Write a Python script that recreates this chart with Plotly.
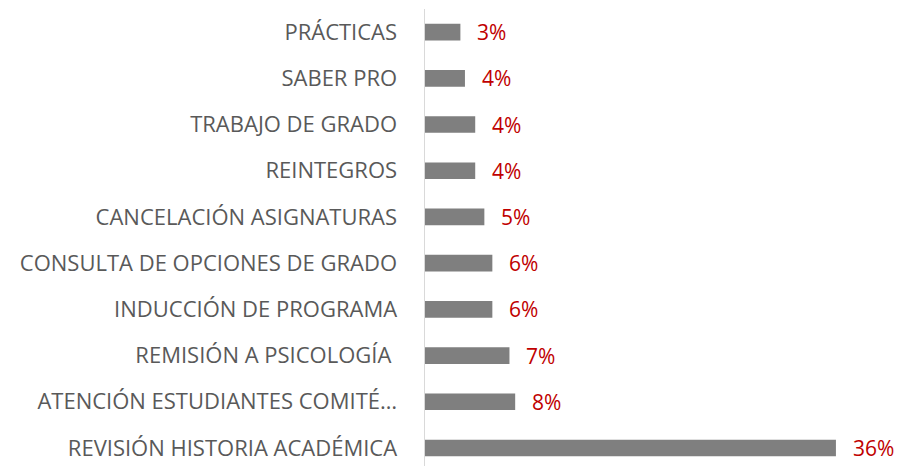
import plotly.graph_objects as go

# Categories bottom-to-top
categories = [
    "REVISIÓN HISTORIA ACADÉMICA",
    "ATENCIÓN ESTUDIANTES COMITÉ…",
    "REMISIÓN A PSICOLOGÍA\u00a0",
    "INDUCCIÓN DE PROGRAMA",
    "CONSULTA DE OPCIONES DE GRADO",
    "CANCELACIÓN ASIGNATURAS",
    "REINTEGROS",
    "TRABAJO DE GRADO",
    "SABER PRO",
    "PRÁCTICAS",
]
values = [36.0, 7.9, 7.4, 5.9, 5.9, 5.2, 4.4, 4.4, 3.5, 3.1]
labels = ["36%", "8%", "7%", "6%", "6%", "5%", "4%", "4%", "4%", "3%"]

FONT = "Open Sans"

fig = go.Figure(
    go.Bar(
        y=categories,
        x=values,
        orientation="h",
        marker=dict(color="#7f7f7f", line=dict(width=0)),
        width=0.36,
        hoverinfo="skip",
    )
)

for c, v, t in zip(categories, values, labels):
    fig.add_annotation(
        x=v, y=c, text=t, showarrow=False, xanchor="left", xshift=15,
        font=dict(family=FONT, size=21, color="#c00000"),
    )

fig.update_layout(
    width=901,
    height=466,
    margin=dict(l=425, r=8, t=9, b=0),
    paper_bgcolor="white",
    plot_bgcolor="white",
    showlegend=False,
    xaxis=dict(range=[0, 41], visible=False),
    yaxis=dict(
        type="category",
        range=[-0.39, 9.5],
        showline=True,
        linecolor="#d9d9d9",
        linewidth=1.5,
        showgrid=False,
        ticks="",
        ticklabelstandoff=22,
        automargin=False,
        tickfont=dict(family=FONT, size=22, color="#595959"),
    ),
)

fig.write_html("out.html", config={"displayModeBar": False, "staticPlot": True})

with open("out.html", encoding="utf-8") as f:
    html = f.read()
html = html.replace("<body>", '<body style="margin:0;padding:0;overflow:hidden;">', 1)
with open("out.html", "w", encoding="utf-8") as f:
    f.write(html)
